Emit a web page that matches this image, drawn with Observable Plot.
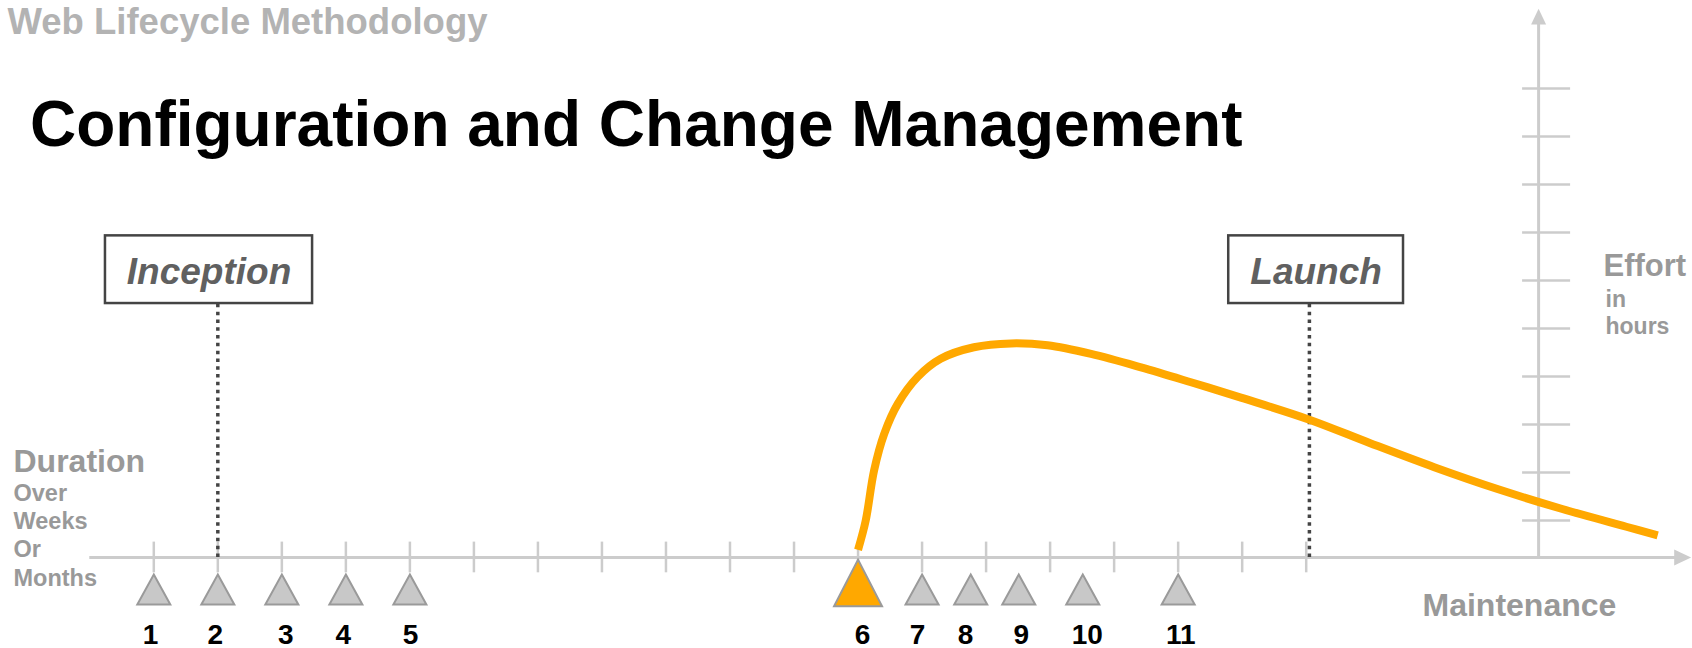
<!DOCTYPE html>
<html>
<head>
<meta charset="utf-8">
<script src="https://cdn.jsdelivr.net/npm/d3@7"></script>
<script src="https://cdn.jsdelivr.net/npm/@observablehq/plot@0.6"></script>
<style>
  html, body { margin: 0; padding: 0; background: #fff; }
  #chart svg { display: block; }
</style>
</head>
<body>
<div id="chart"></div>
<script>
// ---- Data ----
const durationTicks = [1,2,3,4,5,6,7,8,9,10,11,12,13,14,15,16,17,18,19];
const effortTicks = [1,2,3,4,5,6,7,8,9,10];

const milestoneLabels = ["1","2","3","4","5","6","7","8","9","10","11"];
const milestoneWeeks  = [1, 2, 3, 4, 5, 12, 13, 13.76, 14.51, 15.51, 17];
const labelWeeks      = [0.95, 1.96, 3.06, 3.96, 5.01, 12.07, 12.93, 13.68, 14.55, 15.58, 17.04];
const highlightedMilestone = "6";

const phases     = ["Inception", "Launch"];
const phaseWeeks = [2.0, 19.05];

const curveWeeks  = [12.0, 12.12, 12.25, 12.41, 12.62, 12.93, 13.29, 13.81, 14.39, 14.96, 15.64, 16.42, 17.2, 17.98, 19.05, 20, 21, 22, 23, 24, 24.49];
const curveEffort = [0.39, 1.0, 2.04, 2.81, 3.43, 3.99, 4.37, 4.61, 4.69, 4.65, 4.47, 4.19, 3.88, 3.56, 3.10, 2.61, 2.11, 1.65, 1.24, 0.87, 0.69];

// ---- Layout constants (in data units) ----
const xAxisEffort = 0.23;      // effort level of the duration axis
const xAxisStart = 0, xAxisEnd = 24.8, xArrowAt = 24.88;
const yAxisWeek = 22.63, yAxisTop = 11.4, yArrowAt = 11.5;
const boxLow = 5.52, boxHigh = 6.93;
const boxSpan = {Inception: [0.245, 3.48], Launch: [17.79, 20.52]};

const curve = curveWeeks.map((w, i) => ({week: w, effort: curveEffort[i]}));
const milestones = milestoneLabels.map((m, i) => ({label: m, week: milestoneWeeks[i], labelWeek: labelWeeks[i]}));
const phaseRows = phases.map((p, i) => ({phase: p, week: phaseWeeks[i], x1: boxSpan[p][0], x2: boxSpan[p][1]}));

function isoTriangle(ratio) {
  return {draw(ctx, size) {
    const w = 2 * Math.sqrt(size / Math.PI), h = w * ratio;
    ctx.moveTo(0, -h / 2);
    ctx.lineTo(w / 2, h / 2);
    ctx.lineTo(-w / 2, h / 2);
    ctx.closePath();
  }};
}

const FONT = "'Liberation Sans', Arial, Helvetica, sans-serif";
const ORANGE = "#ffa800";
const AXIS = "#cccccc";
const LABEL = "#999999";

const label = (txt, dx, dy, size, fill, extra = {}) =>
  Plot.text([txt], {text: d => d, frameAnchor: "top-left", dx, dy, textAnchor: "start", lineAnchor: "bottom",
    fontSize: size, fontWeight: "bold", fill, ...extra});

const chart = Plot.plot({
  width: 1692,
  height: 648,
  margin: 0,
  style: {fontFamily: FONT, background: "#fff", overflow: "visible"},
  x: {domain: [1, 19], range: [153.3, 1305.7], axis: null},
  y: {domain: [1, 10], range: [520, 88], axis: null},
  marks: [
    // axes
    Plot.ruleY([xAxisEffort], {x1: xAxisStart, x2: xAxisEnd, stroke: AXIS, strokeWidth: 3}),
    Plot.ruleX([yAxisWeek], {y1: xAxisEffort, y2: yAxisTop, stroke: AXIS, strokeWidth: 3}),
    Plot.dot([xArrowAt], {x: d => d, y: xAxisEffort, symbol: isoTriangle(1.06), r: 8, rotate: 90, fill: AXIS, stroke: null}),
    Plot.dot([yArrowAt], {x: yAxisWeek, y: d => d, symbol: isoTriangle(1.05), r: 7.5, fill: AXIS, stroke: null}),
    Plot.ruleX(durationTicks, {y1: 0.55, y2: -0.09, stroke: AXIS, strokeWidth: 2.5}),
    Plot.ruleY(effortTicks, {x1: 22.38, x2: 23.13, stroke: AXIS, strokeWidth: 2.5}),

    // phase markers
    Plot.ruleX(phaseRows, {x: "week", y1: xAxisEffort, y2: boxLow, stroke: "#444", strokeWidth: 3.5, strokeDasharray: "3.5,4.3"}),
    Plot.rect(phaseRows, {x1: "x1", x2: "x2", y1: boxLow, y2: boxHigh, fill: "#fff", stroke: "#444", strokeWidth: 2.5}),
    Plot.text(phaseRows, {x: d => (d.x1 + d.x2) / 2, y: 5.93, text: "phase", lineAnchor: "bottom", fontSize: 37,
      fontWeight: "bold", fontStyle: "italic", fill: "#606060"}),

    // effort curve
    Plot.line(curve, {x: "week", y: "effort", stroke: ORANGE, strokeWidth: 8, curve: "catmull-rom", strokeLinecap: "butt"}),

    // milestones
    Plot.dot(milestones.filter(d => d.label !== highlightedMilestone), {x: "week", y: -0.4375, symbol: isoTriangle(0.91), r: 16.5,
      fill: "#c8c8c8", stroke: "#9a9a9a", strokeWidth: 2}),
    Plot.dot(milestones.filter(d => d.label === highlightedMilestone), {x: "week", y: -0.30, symbol: isoTriangle(0.97), r: 24,
      fill: ORANGE, stroke: "#9a9a9a", strokeWidth: 2}),
    Plot.text(milestones, {x: "labelWeek", text: "label", frameAnchor: "bottom", dy: -5, lineAnchor: "bottom",
      fontSize: 28, fontWeight: "bold", fill: "#000"}),

    // titles & axis labels
    label("Web Lifecycle Methodology", 7, 33, 36.5, "#b3b3b3"),
    label("Configuration and Change Management", 29.5, 145, 64, "#000"),
    label("Duration", 13, 471.7, 32, LABEL),
    label("Over", 13, 500, 23.5, LABEL),
    label("Weeks", 13, 528.3, 23.5, LABEL),
    label("Or", 13, 556.7, 23.5, LABEL),
    label("Months", 13, 585, 23.5, LABEL),
    label("Effort", 1603, 275, 31, LABEL),
    label("in", 1605, 306, 23, LABEL),
    label("hours", 1605, 333.3, 23, LABEL),
    label("Maintenance", 1422, 615, 32, LABEL)
  ]
});

document.getElementById("chart").append(chart);
</script>
</body>
</html>
